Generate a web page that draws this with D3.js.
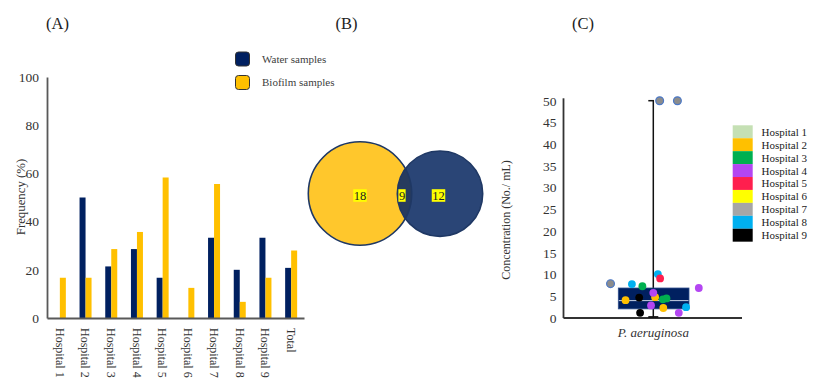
<!DOCTYPE html>
<html><head><meta charset="utf-8">
<script src="https://cdn.jsdelivr.net/npm/d3@7/dist/d3.min.js"></script>
<style>
body{margin:0;background:#fff;}
svg{display:block;font-family:"Liberation Serif","Times New Roman",serif;}
svg text{font-family:"Liberation Serif","Times New Roman",serif;}
</style></head>
<body><svg id="c" width="831" height="390"></svg>
<script>
// ---------- Panel A data ----------
const categories = ["Hospital 1","Hospital 2","Hospital 3","Hospital 4","Hospital 5","Hospital 6","Hospital 7","Hospital 8","Hospital 9","Total"];
const waterValues = [0, 50, 21.4, 28.6, 16.7, 0, 33.3, 20, 33.3, 20.8];
const biofilmValues = [16.7, 16.7, 28.6, 35.7, 58.3, 12.5, 55.6, 6.7, 16.7, 28];
const freqTicks = [0, 20, 40, 60, 80, 100];
const seriesNames = ["Water samples", "Biofilm samples"];

// ---------- Panel B data ----------
const vennLabels = ["18", "9", "12"]; // biofilm only, both, water only

// ---------- Panel C data ----------
const hospitals = ["Hospital 1","Hospital 2","Hospital 3","Hospital 4","Hospital 5","Hospital 6","Hospital 7","Hospital 8","Hospital 9"];
const hospitalColors = ["#C5E0B4","#FFC000","#00B050","#B446F2","#FF1F4E","#FFFF00","#A6A6A6","#00B0F0","#000000"];
const concTicks = [0,5,10,15,20,25,30,35,40,45,50];
const boxStats = {min: 0, q1: 2.1, median: 4.0, q3: 6.9, max: 50};
// points: hospital index, concentration, jitter (-1..1)
const pointHospital = [6, 6, 6, 7, 2, 7, 4, 3, 1, 2, 2, 1, 3, 8, 3, 1, 7, 3, 8];
const pointValue    = [50, 50, 7.9, 7.8, 7.3, 10.1, 9.1, 6.9, 4.8, 4.3, 4.5, 4.1, 5.8, 4.7, 2.9, 2.3, 2.5, 1.2, 1.2];
const pointJitter   = [0.14, 0.53, -0.94, -0.47, -0.24, 0.10, 0.15, 1.0, 0.04, 0.21, 0.29, -0.61, 0.0, -0.31, -0.05, 0.22, 0.72, 0.56, -0.29];

const svg = d3.select("#c");
const serif = '"Liberation Serif","Times New Roman",serif';

// Panel labels
[["(A)",57.5],["(B)",346.5],["(C)",583]].forEach(([t,x])=>{
  svg.append("text").attr("x",x).attr("y",29).attr("text-anchor","middle")
    .attr("font-size",16.5).attr("fill","#222").text(t);
});

// ================= Panel A =================
const xA = d3.scaleBand().domain(categories).range([47,304]).padding(0);
const yA = d3.scaleLinear().domain([0,100]).range([318,77]);
const barW = 6;
const gA = svg.append("g");

// y axis
const yAxisA = d3.axisLeft(yA).tickValues(freqTicks).tickSize(0).tickPadding(8);
const ya = gA.append("g").attr("transform","translate(47,0)").call(yAxisA);
ya.select(".domain").attr("stroke","#595959").attr("stroke-width",1.8);
ya.selectAll("text").attr("font-family",serif).attr("font-size",13.5).attr("fill","#333");

// bars
gA.selectAll(".bw").data(categories).join("rect")
  .attr("x",d=>xA(d)+xA.bandwidth()/2-barW)
  .attr("width",barW)
  .attr("y",(d,i)=>yA(waterValues[i]))
  .attr("height",(d,i)=>yA(0)-yA(waterValues[i]))
  .attr("fill","#002060");
gA.selectAll(".bb").data(categories).join("rect")
  .attr("x",d=>xA(d)+xA.bandwidth()/2)
  .attr("width",barW)
  .attr("y",(d,i)=>yA(biofilmValues[i]))
  .attr("height",(d,i)=>yA(0)-yA(biofilmValues[i]))
  .attr("fill","#FFC000");

// x axis
const xAxisA = d3.axisBottom(xA).tickSize(0).tickPadding(0);
const xa = gA.append("g").attr("transform","translate(0,318)").call(xAxisA);
xa.select(".domain").attr("stroke","#595959").attr("stroke-width",1.8);
xa.selectAll("text").attr("font-family",serif).attr("font-size",12).attr("fill","#333")
  .attr("transform","rotate(90)").attr("text-anchor","start")
  .attr("x",10).attr("y",0).attr("dy","0.35em");

// y title
gA.append("text").attr("transform","translate(21,197) rotate(-90)")
  .attr("text-anchor","middle").attr("dy","0.35em").attr("font-size",12.8).attr("fill","#333")
  .text("Frequency (%)");

// legend
const legA = gA.append("g");
seriesNames.forEach((n,i)=>{
  legA.append("rect").attr("x",235.5).attr("y",52+i*23.5).attr("width",14).attr("height",14)
    .attr("rx",3).attr("fill",i===0?"#002060":"#FFC000").attr("stroke","#333").attr("stroke-width",1);
  legA.append("text").attr("x",262).attr("y",59+i*23.5).attr("dy","0.35em")
    .attr("font-size",11).attr("fill","#404040").text(n);
});

// ================= Panel B =================
const gB = svg.append("g");
const cY = {cx:360, cy:193.5, r:51.7};
const cB = {cx:440, cy:193.7, r:42.7};
gB.append("circle").attr("cx",cY.cx).attr("cy",cY.cy).attr("r",cY.r).attr("fill","#FFC72C");
gB.append("circle").attr("cx",cB.cx).attr("cy",cB.cy).attr("r",cB.r).attr("fill","#2A4576");
const defs = svg.append("defs");
defs.append("clipPath").attr("id","clipY").append("circle").attr("cx",cY.cx).attr("cy",cY.cy).attr("r",cY.r);
gB.append("circle").attr("cx",cB.cx).attr("cy",cB.cy).attr("r",cB.r).attr("fill","#273B5E").attr("clip-path","url(#clipY)");
gB.append("circle").attr("cx",cY.cx).attr("cy",cY.cy).attr("r",cY.r).attr("fill","none").attr("stroke","#1F3864").attr("stroke-width",1.6);
gB.append("circle").attr("cx",cB.cx).attr("cy",cB.cy).attr("r",cB.r).attr("fill","none").attr("stroke","#1F3864").attr("stroke-width",1.6);
const vennX = [cY.cx, (cB.cx-cB.r + cY.cx+cY.r)/2 - 2.5, cB.cx-1.5];
vennLabels.forEach((t,i)=>{
  const tx = gB.append("text").attr("x",vennX[i]).attr("y",cY.cy+2).attr("dy","0.35em")
    .attr("text-anchor","middle").attr("font-size",12.5).attr("fill","#222").text(t);
  const bb = tx.node().getBBox();
  gB.insert("rect", () => tx.node()).attr("x",bb.x-0.5).attr("y",cY.cy+2-6.3).attr("width",bb.width+1).attr("height",12.6).attr("fill","#FFFF00");
});

// ================= Panel C =================
const gC = svg.append("g");
const yC = d3.scaleLinear().domain([0,50]).range([318,100.7]);
const xC = d3.scaleLinear().domain([-1,1]).range([653.3-45.5,653.3+45.5]);
const centerX = xC(0);

const yAxisC = d3.axisLeft(yC).tickValues(concTicks).tickSize(0).tickPadding(7);
const yc = gC.append("g").attr("transform","translate(563.5,0)").call(yAxisC);
yc.select(".domain").attr("stroke","#333").attr("stroke-width",1.8).attr("d","M0,98.3V318");
yc.selectAll("text").attr("font-family",serif).attr("font-size",13.5).attr("fill","#333");

gC.append("line").attr("x1",563.5).attr("x2",742).attr("y1",yC(0)).attr("y2",yC(0))
  .attr("stroke","#333").attr("stroke-width",1.8);

gC.append("text").attr("x",centerX).attr("y",337).attr("text-anchor","middle")
  .attr("font-size",13).attr("font-style","italic").attr("fill","#333").text("P. aeruginosa");

gC.append("text").attr("transform","translate(506,220) rotate(-90)")
  .attr("text-anchor","middle").attr("dy","0.35em").attr("font-size",12).attr("fill","#333")
  .text("Concentration (No./ mL)");

// whisker
gC.append("line").attr("x1",centerX).attr("x2",centerX).attr("y1",yC(boxStats.max)).attr("y2",yC(boxStats.min))
  .attr("stroke","#111").attr("stroke-width",1.5);
gC.append("line").attr("x1",centerX-5).attr("x2",centerX+0.75).attr("y1",yC(boxStats.max)).attr("y2",yC(boxStats.max))
  .attr("stroke","#111").attr("stroke-width",1.5);
gC.append("line").attr("x1",centerX-5).attr("x2",centerX+5).attr("y1",yC(boxStats.min)-1).attr("y2",yC(boxStats.min)-1)
  .attr("stroke","#111").attr("stroke-width",1.8);
// box
gC.append("rect").attr("x",618.3).attr("width",70.7)
  .attr("y",yC(boxStats.q3)).attr("height",yC(boxStats.q1)-yC(boxStats.q3))
  .attr("fill","#002060").attr("stroke","#2F4E8C").attr("stroke-width",0.8);
gC.append("line").attr("x1",618.8).attr("x2",688.5).attr("y1",yC(boxStats.median)).attr("y2",yC(boxStats.median))
  .attr("stroke","#C9D3E6").attr("stroke-width",1);

// points
gC.selectAll(".pt").data(pointValue).join("circle")
  .attr("cx",(d,i)=>xC(pointJitter[i]))
  .attr("cy",d=>yC(d))
  .attr("r",3.9)
  .attr("fill",(d,i)=>pointHospital[i]===6 ? "#8C8C8C" : hospitalColors[pointHospital[i]])
  .attr("stroke",(d,i)=>pointHospital[i]===6 ? "#4A78C8" : "none")
  .attr("stroke-width",1.2);

// legend
const legC = gC.append("g");
hospitals.forEach((h,i)=>{
  legC.append("rect").attr("x",732.7).attr("y",125.3+i*12.93).attr("width",20).attr("height",12.93)
    .attr("fill",hospitalColors[i]);
  legC.append("text").attr("x",761.5).attr("y",125.3+i*12.93+6.6).attr("dy","0.35em")
    .attr("font-size",11).attr("fill","#222").text(h);
});
</script>
</body></html>
